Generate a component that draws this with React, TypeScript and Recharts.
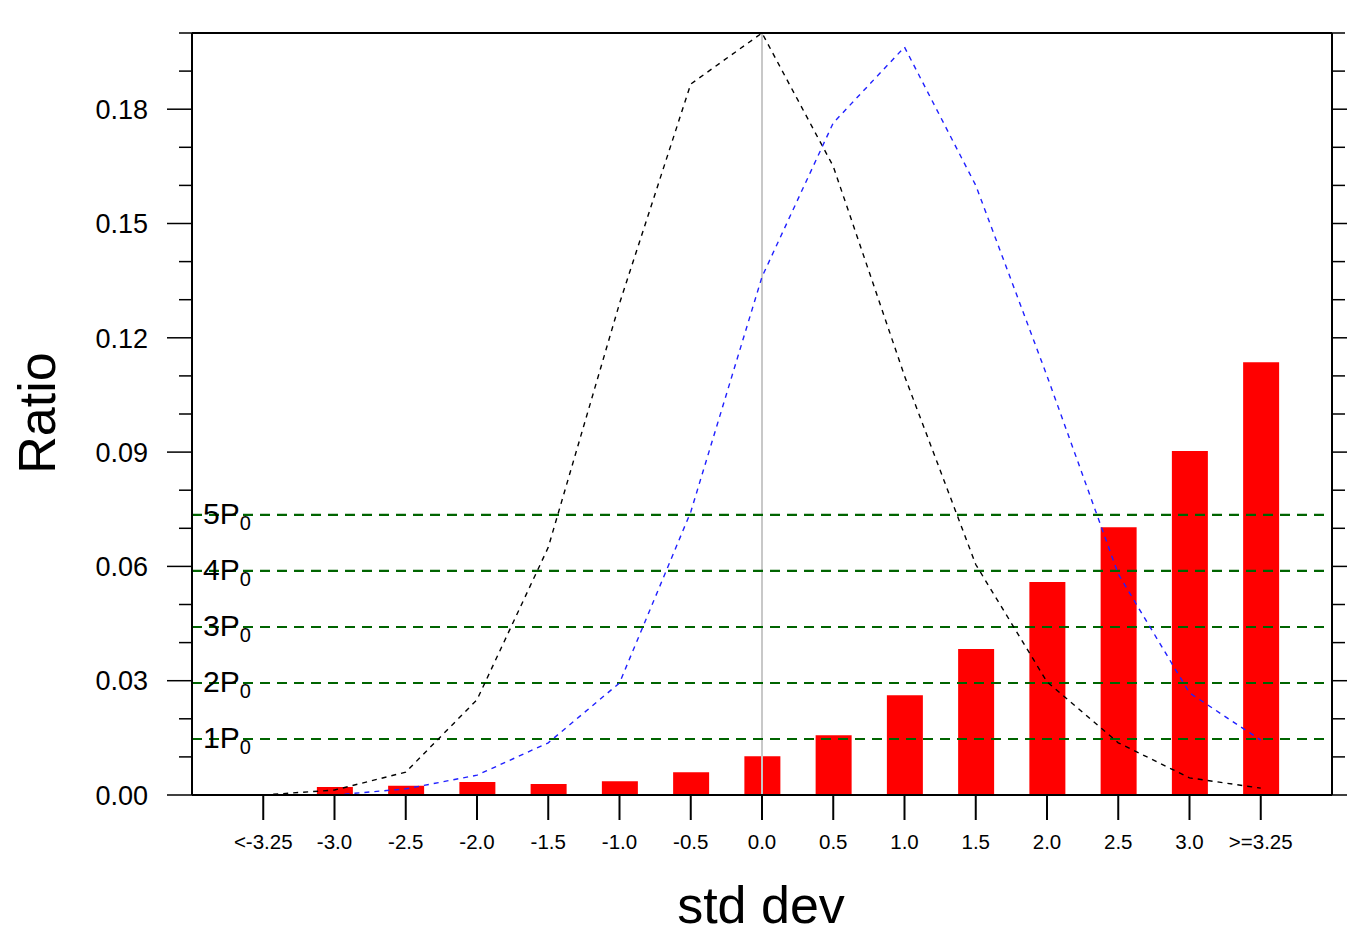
import React from 'react';
import { ComposedChart, Bar, Line, XAxis, YAxis, ReferenceLine } from 'recharts';

const categories = ['<-3.25', '-3.0', '-2.5', '-2.0', '-1.5', '-1.0', '-0.5', '0.0', '0.5', '1.0', '1.5', '2.0', '2.5', '3.0', '>=3.25'];
const ratioBars = [null, 0.0021, 0.0024, 0.0034, 0.0029, 0.0036, 0.006, 0.0102, 0.0157, 0.0262, 0.0383, 0.0559, 0.0703, 0.0903, 0.1136];
const blackCurve = [0.0, 0.0013, 0.006, 0.025, 0.065, 0.129, 0.1866, 0.2, 0.165, 0.11, 0.0605, 0.0297, 0.0137, 0.0045, 0.0018];
const blueCurve = [null, 0.0, 0.0016, 0.0052, 0.0137, 0.0294, 0.0743, 0.136, 0.1764, 0.1963, 0.16, 0.11, 0.058, 0.0268, 0.0144];
const yTicks = [0, 0.01, 0.02, 0.03, 0.04, 0.05, 0.06, 0.07, 0.08, 0.09, 0.1, 0.11, 0.12, 0.13, 0.14, 0.15, 0.16, 0.17, 0.18, 0.19, 0.2];
const pLevels = [0.0147, 0.0294, 0.0441, 0.0588, 0.0735];
const pLabels = ['1P', '2P', '3P', '4P', '5P'];
const xTitle = 'std dev';
const yTitle = 'Ratio';

const data = categories.map((c, i) => ({ idx: i, cat: c, bar: ratioBars[i], black: blackCurve[i], blue: blueCurve[i] }));
const xTicks = categories.map((_, i) => i);

const FONT = '"Liberation Sans", Arial, Helvetica, sans-serif';

const isMajor = (v: number) => Math.round(v * 100) % 3 === 0;

function LeftTick(props: any) {
  const { x, y, payload } = props;
  const major = isMajor(payload.value);
  return (
    <g>
      <line x1={x - (major ? 25 : 13)} x2={x} y1={y} y2={y} stroke="#000" strokeWidth={1.5} />
      {major && (
        <text x={x - 44} y={y} dy="0.36em" textAnchor="end" fontSize={27} fontFamily={FONT} fill="#000">
          {payload.value.toFixed(2)}
        </text>
      )}
    </g>
  );
}

function RightTick(props: any) {
  const { x, y, payload } = props;
  const major = isMajor(payload.value);
  return <line x1={x} x2={x + (major ? 25 : 13)} y1={y} y2={y} stroke="#000" strokeWidth={1.5} />;
}

function PLabel(props: any) {
  const { viewBox, text } = props;
  const x = viewBox ? viewBox.x : 192;
  const y = viewBox ? viewBox.y : 0;
  return (
    <text x={x + 11} y={y + 9} fontSize={30} fontFamily={FONT} fill="#000">
      {text}
      <tspan fontSize={20} dy={6}>0</tspan>
    </text>
  );
}

export default function App() {
  return (
    <div style={{ position: 'absolute', left: 0, top: 0, width: 1347, height: 934, background: '#fff', overflow: 'hidden' }}>
      <ComposedChart width={1347} height={934} data={data} margin={{ top: 8, right: 0, bottom: 0, left: 92 }}>
        <XAxis
          xAxisId="top"
          orientation="top"
          type="number"
          dataKey="idx"
          domain={[-1, 15]}
          ticks={xTicks}
          interval={0}
          height={25}
          tick={false}
          tickSize={25}
          axisLine={{ stroke: '#000', strokeWidth: 2 }}
          tickLine={{ stroke: '#000', strokeWidth: 2 }}
        />
        <XAxis
          xAxisId="bottom"
          orientation="bottom"
          type="number"
          dataKey="idx"
          domain={[-1, 15]}
          ticks={xTicks}
          interval={0}
          height={139}
          tickSize={25}
          tickMargin={14}
          tickFormatter={(v: number) => categories[v]}
          tick={{ fontSize: 20.5, fontFamily: FONT, fill: '#000' }}
          axisLine={{ stroke: '#000', strokeWidth: 2 }}
          tickLine={{ stroke: '#000', strokeWidth: 2 }}
        />
        <YAxis
          yAxisId="left"
          orientation="left"
          type="number"
          domain={[0, 0.2]}
          ticks={yTicks}
          interval={0}
          width={100}
          tickSize={0}
          tickMargin={0}
          tickLine={false}
          tick={<LeftTick />}
          allowDataOverflow
          axisLine={{ stroke: '#000', strokeWidth: 2 }}
        />
        <YAxis
          yAxisId="right"
          orientation="right"
          type="number"
          domain={[0, 0.2]}
          ticks={yTicks}
          interval={0}
          width={15}
          tickSize={0}
          tickMargin={0}
          tickLine={false}
          tick={<RightTick />}
          allowDataOverflow
          axisLine={{ stroke: '#000', strokeWidth: 2 }}
        />
        <Bar xAxisId="bottom" yAxisId="left" dataKey="bar" fill="#ff0000" barSize={36} isAnimationActive={false} />
        <ReferenceLine xAxisId="bottom" yAxisId="left" x={7} stroke="#c8c8c8" strokeWidth={2} />
        {pLevels.map((lv, i) => (
          <ReferenceLine
            key={i}
            xAxisId="bottom"
            yAxisId="left"
            y={lv}
            stroke="#006400"
            strokeWidth={2.2}
            strokeDasharray="10 7"
            label={<PLabel text={pLabels[i]} />}
          />
        ))}
        <Line xAxisId="bottom" yAxisId="left" type="linear" dataKey="black" stroke="#000" strokeWidth={1.4} strokeDasharray="5 5" dot={false} activeDot={false} isAnimationActive={false} />
        <Line xAxisId="bottom" yAxisId="left" type="linear" dataKey="blue" stroke="#2020ff" strokeWidth={1.4} strokeDasharray="5 5" dot={false} activeDot={false} isAnimationActive={false} />
      </ComposedChart>
      <div style={{ position: 'absolute', left: 561, top: 880, width: 400, height: 50, lineHeight: '50px', textAlign: 'center', fontSize: 52, fontFamily: FONT, color: '#000' }}>
        {xTitle}
      </div>
      <div style={{ position: 'absolute', left: 37 - 100, top: 413 - 26, width: 200, height: 52, lineHeight: '52px', textAlign: 'center', fontSize: 52, fontFamily: FONT, color: '#000', transform: 'rotate(-90deg)' }}>
        {yTitle}
      </div>
    </div>
  );
}
